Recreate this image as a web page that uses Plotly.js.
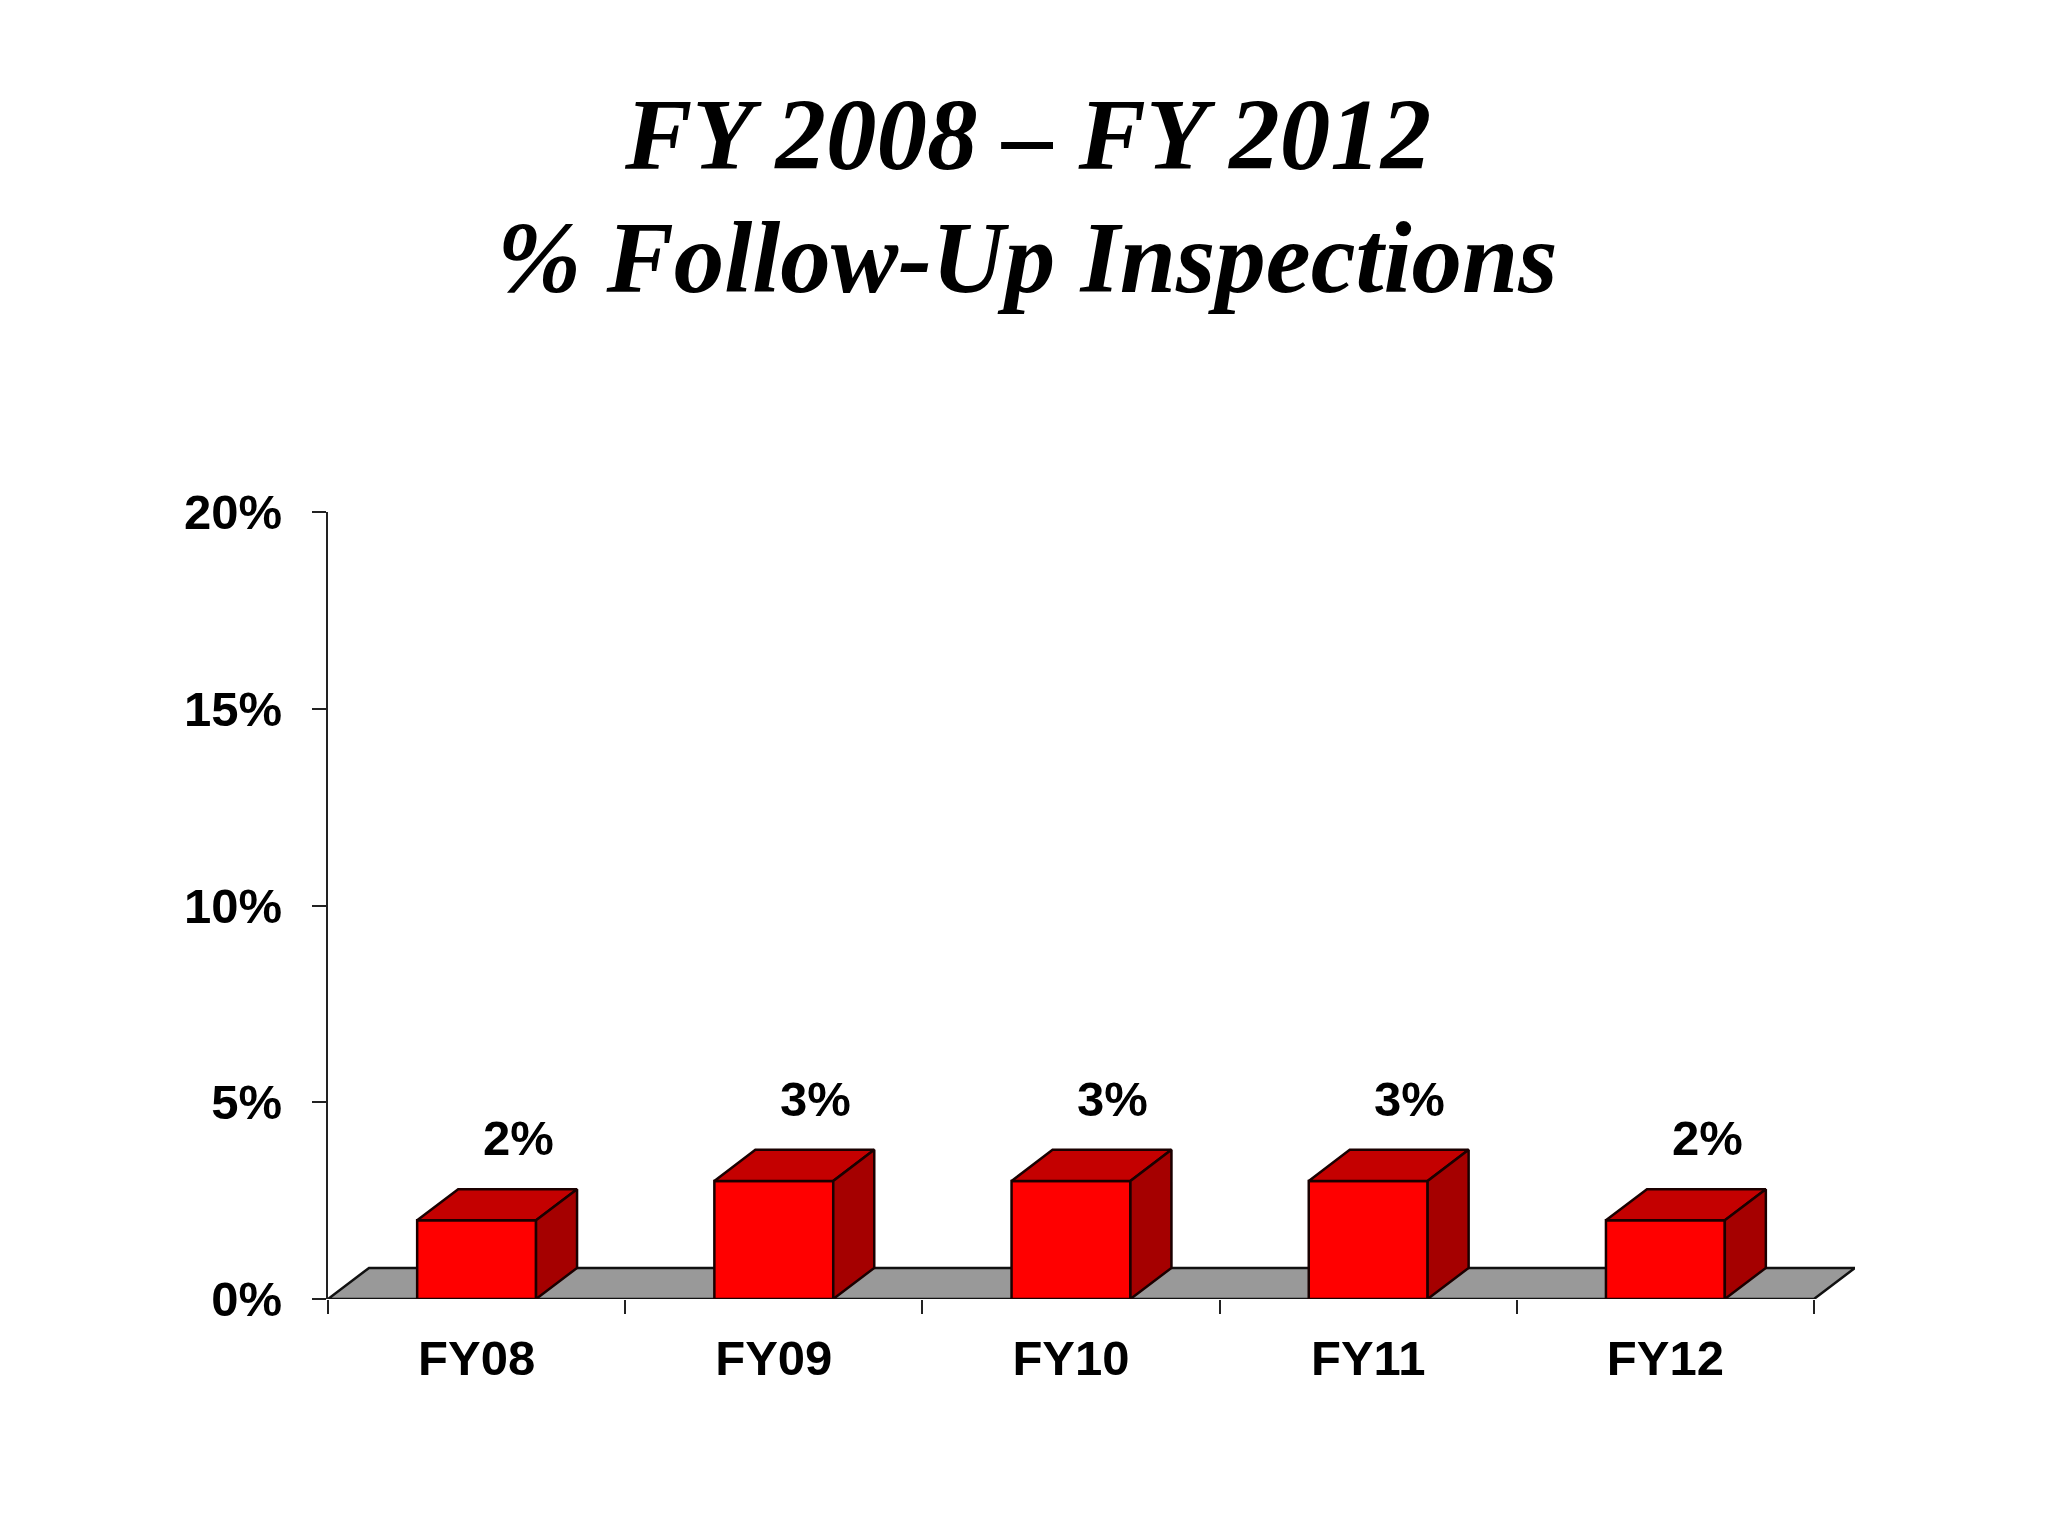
<!DOCTYPE html>
<html>
<head>
<meta charset="utf-8">
<script src="https://cdn.plot.ly/plotly-3.0.1.min.js"></script>
<style>
  body { margin: 0; background: #fff; }
  #chart { width: 2048px; height: 1536px; }
</style>
</head>
<body>
<div id="chart"></div>
<script>
// values
const years = ['FY08', 'FY09', 'FY10', 'FY11', 'FY12'];
const pctFollowUp = [2, 3, 3, 3, 2];
const labels = ['2%', '3%', '3%', '3%', '2%'];
const yTicks = [0, 5, 10, 15, 20];
const yTickText = ['0%', '5%', '10%', '15%', '20%'];

// fake 3d look: depth of the boxes in axis units
const barW = 0.4;
const depthX = 0.138;
const depthY = 0.79;

const xs = years.map((d, i) => i);

// front faces
const front = {
  type: 'bar',
  x: xs,
  y: pctFollowUp,
  width: barW,
  marker: { color: '#ff0000', line: { color: '#1a0000', width: 2.5 } },
  hoverinfo: 'skip',
  showlegend: false
};

let traces = [front];

xs.forEach(function(x, i) {
  const v = pctFollowUp[i];
  const l = x - barW / 2, r = x + barW / 2;
  // top
  traces.push({
    type: 'scatter', mode: 'lines', fill: 'toself',
    x: [l, r, r + depthX, l + depthX, l],
    y: [v, v, v + depthY, v + depthY, v],
    fillcolor: '#c40000',
    line: { color: '#1a0000', width: 2.5 },
    hoverinfo: 'skip', showlegend: false
  });
  // side
  traces.push({
    type: 'scatter', mode: 'lines', fill: 'toself',
    x: [r, r + depthX, r + depthX, r, r],
    y: [0, depthY, v + depthY, v, 0],
    fillcolor: '#a50000',
    line: { color: '#1a0000', width: 2.5 },
    hoverinfo: 'skip', showlegend: false
  });
});

// grey floor under the bars
const x0 = -0.5, x1 = years.length - 0.5;
const floor = {
  type: 'path',
  xref: 'x', yref: 'y',
  path: 'M ' + x0 + ',0 L ' + x1 + ',0 L ' + (x1 + depthX) + ',' + depthY +
        ' L ' + (x0 + depthX) + ',' + depthY + ' Z',
  fillcolor: '#999999',
  line: { color: '#111', width: 2.5 },
  layer: 'below'
};

const boundaries = [];
for (let i = 0; i <= years.length; i++) boundaries.push(i - 0.5);

const bold = { family: 'Liberation Sans, Arial, sans-serif', size: 49, color: '#000', weight: 'bold' };
const titleFont = { family: 'Liberation Serif, Times New Roman, serif', size: 101, color: '#000', weight: 'bold', style: 'italic' };

const annotations = [
  { text: 'FY 2008 – FY 2012', xref: 'paper', yref: 'paper', x: 0.458, y: 1.479,
    xanchor: 'center', yanchor: 'middle', showarrow: false, font: titleFont },
  { text: '% Follow-Up Inspections', xref: 'paper', yref: 'paper', x: 0.458, y: 1.3228,
    xanchor: 'center', yanchor: 'middle', showarrow: false, font: titleFont }
];

xs.forEach(function(x, i) {
  annotations.push({
    text: labels[i], x: x + 0.14, y: pctFollowUp[i] + 2.08,
    xref: 'x', yref: 'y', xanchor: 'center', yanchor: 'middle',
    showarrow: false, font: bold
  });
});

const layout = {
  width: 2048,
  height: 1536,
  margin: { l: 328, r: 193, t: 512, b: 237 },
  paper_bgcolor: '#fff',
  plot_bgcolor: 'rgba(0,0,0,0)',
  showlegend: false,
  xaxis: {
    range: [x0, x1 + depthX],
    tickvals: xs,
    ticktext: years,
    ticks: '',
    showline: false,
    showgrid: false,
    zeroline: false,
    tickfont: bold,
    ticklabelstandoff: 26,
    minor: { tickmode: 'array', tickvals: boundaries, ticks: 'outside', ticklen: 14,
             tickwidth: 2, tickcolor: '#222', showgrid: false }
  },
  yaxis: {
    range: [0, 20],
    tickvals: yTicks,
    ticktext: yTickText,
    ticks: 'outside',
    ticklen: 14,
    tickwidth: 2,
    tickcolor: '#222',
    showline: true,
    linecolor: '#222',
    linewidth: 2,
    showgrid: false,
    zeroline: false,
    tickfont: bold,
    ticklabelstandoff: 20
  },
  shapes: [floor],
  annotations: annotations
};

Plotly.newPlot('chart', traces, layout, { staticPlot: true });
</script>
</body>
</html>
